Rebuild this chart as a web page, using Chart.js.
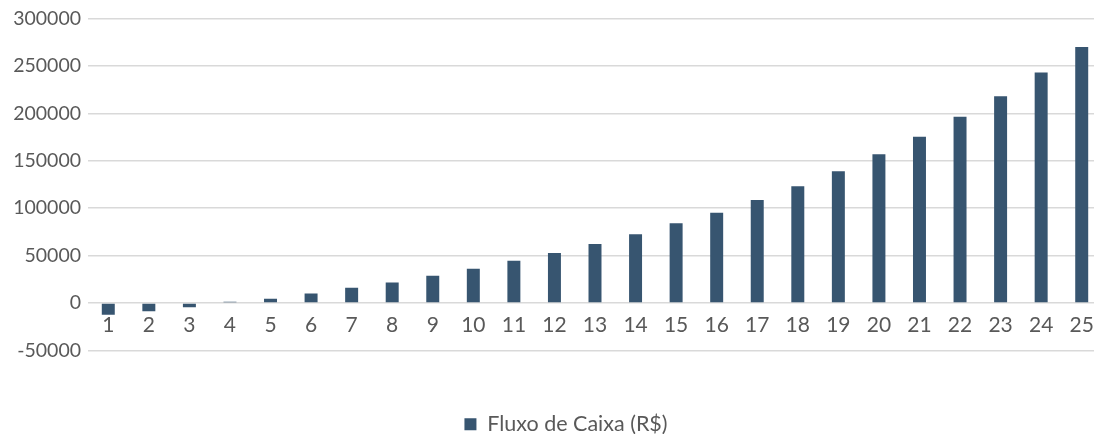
<!DOCTYPE html>
<html>
<head>
<meta charset="utf-8">
<script src="https://cdn.jsdelivr.net/npm/chart.js@4.4.0/dist/chart.umd.min.js"></script>
<style>
  html, body { margin: 0; padding: 0; background: #fff; overflow: hidden; }
  #wrap { width: 1102px; height: 434px; }
</style>
</head>
<body>
<div id="wrap"><canvas id="cashChart"></canvas></div>
<script>
const ANOS = ["1","2","3","4","5","6","7","8","9","10","11","12","13","14","15","16","17","18","19","20","21","22","23","24","25"];
const FLUXO = [-12500, -8700, -4500, 1300, 4500, 10000, 16000, 21500, 28800, 36100, 44500, 52800, 62200,
               72600, 84000, 95100, 108700, 123200, 138900, 156900, 175300, 196400, 218200, 243200, 270000];
const Y_TICKS = [-50000, 0, 50000, 100000, 150000, 200000, 250000, 300000];

const TEXT = "#595959";
const GRID = "#d9d9d9";
const BAR = "#375570";

// nudge the legend a bit to the right, like the original
const legendShift = {
  id: "legendShift",
  afterLayout(chart) {
    chart.legend.left += 15;
    chart.legend.right += 15;
  }
};

const ctx = document.getElementById("cashChart").getContext("2d");
new Chart(ctx, {
  type: "bar",
  data: {
    labels: ANOS,
    datasets: [{
      label: "Fluxo de Caixa (R$)",
      data: FLUXO,
      backgroundColor: BAR,
      barPercentage: 0.32,
      categoryPercentage: 1,
    }],
  },
  options: {
    responsive: true,
    maintainAspectRatio: false,
    animation: false,
    layout: { padding: { top: 15, right: 0, left: 0, bottom: -11 } },
    plugins: {
      legend: {
        position: "bottom",
        // empty title only used as a spacer between plot and legend
        title: { display: true, text: " ", font: { size: 1 }, padding: { top: 60, bottom: 0 } },
        labels: {
          color: TEXT,
          font: { family: "Lato", size: 21.5 },
          boxWidth: 12,
          boxHeight: 12,
          padding: 2,
        },
      },
      tooltip: { enabled: false },
    },
    scales: {
      x: {
        position: { y: 0 },
        grid: { display: false },
        border: { display: false },
        ticks: { color: TEXT, font: { family: "Lato", size: 21 }, padding: 2, maxRotation: 0, autoSkip: false },
      },
      y: {
        min: Y_TICKS[0],
        max: Y_TICKS[Y_TICKS.length - 1],
        afterBuildTicks: (axis) => { axis.ticks = Y_TICKS.map(v => ({ value: v })); },
        afterFit: (axis) => { axis.width = 88; },
        grid: { color: GRID, lineWidth: 1.5, drawTicks: false },
        border: { display: false },
        ticks: {
          color: TEXT,
          font: { family: "Lato", size: 19.5 },
          padding: 7,
          callback: (v) => String(v),
        },
      },
    },
  },
  plugins: [legendShift],
});
</script>
</body>
</html>
